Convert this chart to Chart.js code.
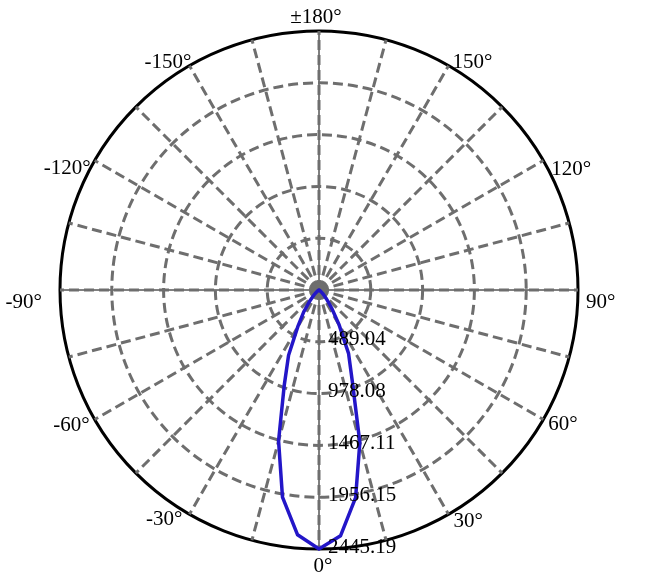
<!DOCTYPE html>
<html>
<head>
<meta charset="utf-8">
<script src="https://cdn.jsdelivr.net/npm/chart.js@4.4.0/dist/chart.umd.min.js"></script>
<style>
  html, body { margin: 0; padding: 0; background: #ffffff; }
  canvas { display: block; }
</style>
</head>
<body>
<canvas id="grafPolar" width="646" height="580"></canvas>
<script>
// Ángulos del plano (de arriba en sentido horario): 180 ... 5, 0, -5 ... -175
const ANGULOS = [
  180, 175, 170, 165, 160, 155, 150, 145, 140, 135, 130, 125,
  120, 115, 110, 105, 100, 95, 90, 85, 80, 75, 70, 65,
  60, 55, 50, 45, 40, 35, 30, 25, 20, 15, 10, 5,
  0, -5, -10, -15, -20, -25, -30, -35, -40, -45, -50, -55,
  -60, -65, -70, -75, -80, -85, -90, -95, -100, -105, -110, -115,
  -120, -125, -130, -135, -140, -145, -150, -155, -160, -165, -170, -175
];

// Intensidad (cd) para cada ángulo
const INTENSIDAD = [
  0, 0, 0, 0, 0, 0, 0, 0, 0, 0, 0, 0,
  0, 0, 0, 0, 0, 0, 0, 0, 0, 0, 0, 0,
  5, 10, 25, 55, 110, 210, 380, 660, 920, 1490, 1990, 2330,
  2445.19, 2320, 1985, 1475, 960, 680, 400, 250, 135, 70, 35, 15,
  5, 0, 0, 0, 0, 0, 0, 0, 0, 0, 0, 0,
  0, 0, 0, 0, 0, 0, 0, 0, 0, 0, 0, 0
];

// Anillos de la escala radial
const ANILLOS = [0, 489.04, 978.08, 1467.11, 1956.15, 2445.19];
const ETIQUETAS_ANILLO = ["489.04", "978.08", "1467.11", "1956.15", "2445.19"];

// Etiquetas de grados cada 30°
const GRADOS_ETIQUETA = [180, 150, 120, 90, 60, 30, 0, -30, -60, -90, -120, -150];
const TEXTO_GRADOS = ["±180°", "150°", "120°", "90°", "60°", "30°", "0°", "-30°", "-60°", "-90°", "-120°", "-150°"];

const MAX_R = 2445.19;
const GRIS = "#6e6e6e";
const FUENTE = "21px 'Liberation Serif', 'Times New Roman', serif";

// posición fina de cada texto de grados (alineación y desplazamiento en px)
const AJUSTE_GRADOS = {
  "180": { a: "center", dx: -3, dy: -14 },
  "150": { a: "left", dx: 4, dy: -3 },
  "120": { a: "left", dx: 8, dy: 9 },
  "90": { a: "left", dx: 8, dy: 12 },
  "60": { a: "left", dx: 5, dy: 5 },
  "30": { a: "left", dx: 5, dy: 7 },
  "0": { a: "center", dx: 4, dy: 17 },
  "-30": { a: "right", dx: -7, dy: 5 },
  "-60": { a: "right", dx: -5, dy: 6 },
  "-90": { a: "right", dx: -18, dy: 12 },
  "-120": { a: "right", dx: -4, dy: 8 },
  "-150": { a: "right", dx: 2, dy: -3 }
};

const decoracionPolar = {
  id: "decoracionPolar",
  beforeDraw(chart) {
    // ejes principales: línea fina negra bajo la rejilla punteada
    const s = chart.scales.r;
    const ctx = chart.ctx;
    ctx.save();
    ctx.strokeStyle = "#000000";
    ctx.lineWidth = 1;
    [0, 90, -90, 180].forEach(g => {
      const i = ANGULOS.indexOf(g);
      const p = s.getPointPosition(i, s.drawingArea);
      ctx.beginPath();
      ctx.moveTo(s.xCenter, s.yCenter);
      ctx.lineTo(p.x, p.y);
      ctx.stroke();
    });
    ctx.restore();
  },
  beforeDatasetsDraw(chart) {
    const s = chart.scales.r;
    const ctx = chart.ctx;
    ctx.save();
    ctx.fillStyle = GRIS;
    ctx.beginPath();
    ctx.arc(s.xCenter, s.yCenter, 8, 0, Math.PI * 2);
    ctx.fill();
    ctx.restore();
  },
  afterDraw(chart) {
    const s = chart.scales.r;
    const ctx = chart.ctx;
    ctx.save();
    ctx.font = FUENTE;
    ctx.fillStyle = "#000000";
    ctx.textBaseline = "middle";

    // grados alrededor del círculo
    GRADOS_ETIQUETA.forEach((g, k) => {
      const i = ANGULOS.indexOf(g);
      const p = s.getPointPosition(i, s.drawingArea);
      const aj = AJUSTE_GRADOS[String(g)];
      ctx.textAlign = aj.a;
      ctx.fillText(TEXTO_GRADOS[k], p.x + aj.dx, p.y + aj.dy);
    });

    // valores de los anillos sobre el eje 0°
    ctx.textAlign = "left";
    const i0 = ANGULOS.indexOf(0);
    ETIQUETAS_ANILLO.forEach((txt, k) => {
      const d = s.getDistanceFromCenterForValue(ANILLOS[k + 1]);
      const p = s.getPointPosition(i0, d);
      ctx.fillText(txt, p.x + 9, p.y - 2);
    });
    ctx.restore();
  }
};

new Chart(document.getElementById("grafPolar"), {
  type: "radar",
  data: {
    labels: ANGULOS.map(String),
    datasets: [{
      data: INTENSIDAD,
      borderColor: "#2316c8",
      borderWidth: 3.5,
      fill: false,
      pointRadius: 0,
      tension: 0
    }]
  },
  options: {
    responsive: false,
    animation: false,
    layout: { padding: { top: 31, bottom: 31, left: 60, right: 68 } },
    plugins: { legend: { display: false }, tooltip: { enabled: false } },
    scales: {
      r: {
        min: 0,
        max: MAX_R,
        startAngle: 0,
        afterBuildTicks: (scale) => {
          scale.ticks = ANILLOS.map(v => ({ value: v }));
        },
        ticks: { display: false },
        pointLabels: { display: false },
        grid: {
          circular: true,
          color: (c) => c.tick && c.tick.value >= MAX_R ? "#000000" : GRIS,
          lineWidth: 3
        },
        border: {
          dash: (c) => c.tick && c.tick.value >= MAX_R ? [] : [10, 5]
        },
        angleLines: {
          color: GRIS,
          lineWidth: (c) => c.index % 3 === 0 ? 3 : 0,
          borderDash: [10, 5]
        }
      }
    }
  },
  plugins: [decoracionPolar]
});
</script>
</body>
</html>
